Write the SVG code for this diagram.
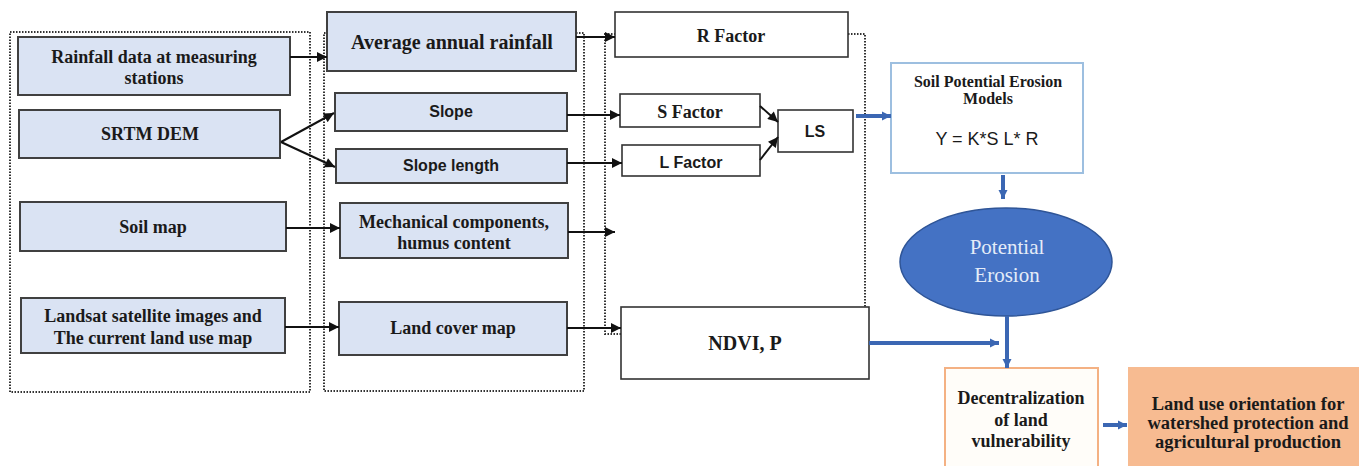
<svg xmlns="http://www.w3.org/2000/svg" width="1359" height="466" viewBox="0 0 1359 466">
<defs>
<style>
.bb{fill:#dae3f3;stroke:#404040;stroke-width:2}
.wb{fill:#fff;stroke:#333;stroke-width:1.6}
.dot{fill:none;stroke:#333;stroke-width:2;stroke-dasharray:1.5 1.5}
.ts{font-family:"Liberation Serif","Times New Roman",serif;font-weight:bold;fill:#1a1a1a;text-anchor:middle}
.ta{font-family:"Liberation Sans",Arial,sans-serif;font-weight:bold;fill:#1a1a1a;text-anchor:middle}
.k{stroke:#111;stroke-width:2;fill:none}
.bl{stroke:#3b67b3;stroke-width:4;fill:none}
</style>
<marker id="ah" viewBox="0 0 10 10" refX="10" refY="5" markerWidth="11" markerHeight="10" markerUnits="userSpaceOnUse" orient="auto"><path d="M0,0 L10,5 L0,10 z" fill="#111"/></marker>
<marker id="bh" viewBox="0 0 10 10" refX="10" refY="5" markerWidth="9" markerHeight="10" markerUnits="userSpaceOnUse" orient="auto"><path d="M0,0 L10,5 L0,10 z" fill="#3b67b3"/></marker>
</defs>
<rect width="1359" height="466" fill="#fff"/>

<g id="containers">
<rect class="dot" x="10" y="32" width="300" height="360"/>
<rect class="dot" x="324" y="33" width="260" height="358"/>
<rect class="dot" x="605" y="34" width="260" height="300"/>
</g>

<g id="n-rainfall"><rect class="bb" x="18" y="37" width="272" height="58"/><text class="ts" font-size="18" x="154" y="63">Rainfall data at measuring</text><text class="ts" font-size="18" x="154" y="84">stations</text></g>
<g id="n-srtm"><rect class="bb" x="19" y="110" width="261" height="48"/><text class="ts" font-size="18" x="150" y="140">SRTM DEM</text></g>
<g id="n-soilmap"><rect class="bb" x="20" y="202" width="266" height="49"/><text class="ts" font-size="18" x="153" y="233">Soil map</text></g>
<g id="n-landsat"><rect class="bb" x="21" y="298" width="264" height="55"/><text class="ts" font-size="18" x="153" y="322">Landsat satellite images and</text><text class="ts" font-size="18" x="153" y="344">The current land use map</text></g>

<g id="n-avg"><rect class="bb" x="327" y="12" width="249" height="59"/><text class="ts" font-size="20" x="452" y="49">Average annual rainfall</text></g>
<g id="n-slope"><rect class="bb" x="335" y="93" width="232" height="38"/><text class="ta" font-size="16" x="451" y="117">Slope</text></g>
<g id="n-slopelen"><rect class="bb" x="336" y="149" width="231" height="34"/><text class="ta" font-size="16" x="451" y="171">Slope length</text></g>
<g id="n-mech"><rect class="bb" x="340" y="203" width="228" height="55"/><text class="ts" font-size="18" x="454" y="228">Mechanical components,</text><text class="ts" font-size="18" x="454" y="249">humus content</text></g>
<g id="n-landcover"><rect class="bb" x="339" y="302" width="228" height="53"/><text class="ts" font-size="18" x="453" y="334">Land cover map</text></g>

<g id="n-r"><rect class="wb" x="615" y="12" width="233" height="45"/><text class="ts" font-size="18" x="731" y="42">R Factor</text></g>
<g id="n-s"><rect class="wb" x="620" y="94" width="140" height="33"/><text class="ts" font-size="18" x="690" y="118">S Factor</text></g>
<g id="n-l"><rect class="wb" x="622" y="145" width="138" height="31"/><text class="ta" font-size="16" x="691" y="168">L Factor</text></g>
<g id="n-ls"><rect class="wb" x="778" y="110" width="75" height="42"/><text class="ta" font-size="16" x="815" y="137">LS</text></g>
<g id="n-ndvi"><rect class="wb" x="621" y="307" width="248" height="72"/><text class="ts" font-size="20" x="745" y="350">NDVI, P</text></g>

<g id="n-model"><rect x="891" y="63" width="192" height="110" fill="#fff" stroke="#9dbfe0" stroke-width="2"/><text class="ts" font-size="16" x="988" y="87">Soil Potential Erosion</text><text class="ts" font-size="16" x="988" y="104">Models</text><text font-family="Liberation Sans,Arial,sans-serif" font-size="18" fill="#1a1a1a" text-anchor="middle" x="987" y="145">Y = K*S L* R</text></g>
<g id="n-erosion"><ellipse cx="1006" cy="262" rx="106" ry="54" fill="#4472c4" stroke="#2f5597" stroke-width="1.5"/><text font-family="Liberation Serif,Times New Roman,serif" font-size="21" fill="#e4ecf8" text-anchor="middle" x="1007" y="254">Potential</text><text font-family="Liberation Serif,Times New Roman,serif" font-size="21" fill="#e4ecf8" text-anchor="middle" x="1007" y="282">Erosion</text></g>
<g id="n-decent"><rect x="945" y="368" width="153" height="100" fill="#fffdf9" stroke="#f4b183" stroke-width="2"/><text class="ts" font-size="18" x="1021" y="404">Decentralization</text><text class="ts" font-size="18" x="1021" y="426">of land</text><text class="ts" font-size="18" x="1021" y="447">vulnerability</text></g>
<g id="n-landuse"><rect x="1128" y="367" width="233" height="101" fill="#f7bb91"/><text class="ts" font-size="18.5" x="1248" y="410">Land use orientation for</text><text class="ts" font-size="18.5" x="1248" y="429">watershed protection and</text><text class="ts" font-size="18.5" x="1248" y="448">agricultural production</text></g>

<g id="connectors">
<line class="k" x1="290" y1="57" x2="327" y2="57" marker-end="url(#ah)"/>
<line class="k" x1="281" y1="142" x2="334" y2="113" marker-end="url(#ah)"/>
<line class="k" x1="281" y1="142" x2="335" y2="167" marker-end="url(#ah)"/>
<line class="k" x1="286" y1="228" x2="340" y2="228" marker-end="url(#ah)"/>
<line class="k" x1="285" y1="327" x2="339" y2="327" marker-end="url(#ah)"/>
<line class="k" x1="576" y1="37" x2="615" y2="37" marker-end="url(#ah)"/>
<line class="k" x1="567" y1="115" x2="620" y2="115" marker-end="url(#ah)"/>
<line class="k" x1="567" y1="163" x2="622" y2="163" marker-end="url(#ah)"/>
<line class="k" x1="568" y1="232" x2="615" y2="232" marker-end="url(#ah)"/>
<line class="k" x1="567" y1="328" x2="621" y2="328" marker-end="url(#ah)"/>
<line class="k" x1="760" y1="106" x2="778" y2="122" marker-end="url(#ah)"/>
<line class="k" x1="760" y1="160" x2="778" y2="137" marker-end="url(#ah)"/>
<line class="bl" x1="856" y1="116" x2="891" y2="116" marker-end="url(#bh)"/>
<line class="bl" x1="1003" y1="175" x2="1003" y2="199" marker-end="url(#bh)"/>
<line class="bl" x1="869" y1="343" x2="999" y2="343" marker-end="url(#bh)"/>
<line class="bl" x1="1007" y1="316" x2="1007" y2="368" marker-end="url(#bh)"/>
<line class="bl" stroke-width="5" x1="1103" y1="425" x2="1127" y2="425" marker-end="url(#bh)"/>
</g>
</svg>
